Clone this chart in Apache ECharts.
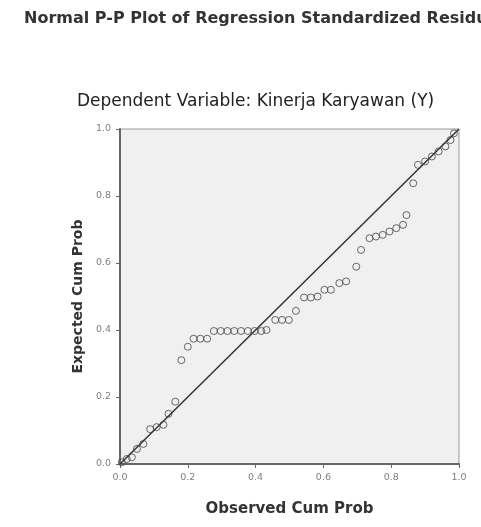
<!DOCTYPE html>
<html>
<head>
<meta charset="utf-8">
<script src="https://cdn.jsdelivr.net/npm/echarts@6/dist/echarts.min.js"></script>
<style>
  html, body { margin: 0; padding: 0; background: #fff; }
  #chart { width: 481px; height: 527px; }
</style>
</head>
<body>
<div id="chart"></div>
<script>
// observed cum prob vs expected cum prob
const observed = [0.005, 0.02, 0.035, 0.05, 0.069, 0.089, 0.108, 0.128, 0.143, 0.163,
  0.181, 0.2, 0.217, 0.237, 0.257, 0.277, 0.297, 0.317, 0.337, 0.357,
  0.377, 0.397, 0.417, 0.432, 0.458, 0.478, 0.498, 0.519, 0.543, 0.563,
  0.583, 0.603, 0.622, 0.647, 0.667, 0.697, 0.711, 0.736, 0.755, 0.775,
  0.795, 0.815, 0.835, 0.845, 0.865, 0.879, 0.9, 0.92, 0.94, 0.96, 0.975, 0.985]
const expected = [0.005, 0.015, 0.02, 0.045, 0.06, 0.104, 0.11, 0.117, 0.15, 0.186,
  0.31, 0.35, 0.374, 0.374, 0.374, 0.397, 0.397, 0.397, 0.397, 0.397,
  0.397, 0.397, 0.397, 0.4, 0.43, 0.43, 0.43, 0.457, 0.497, 0.497,
  0.5, 0.52, 0.52, 0.54, 0.545, 0.589, 0.639, 0.674, 0.679, 0.684,
  0.694, 0.704, 0.714, 0.743, 0.838, 0.893, 0.903, 0.918, 0.933, 0.948, 0.967, 0.987]
const refLine = [[0, 0], [1, 1]]

const font = 'DejaVu Sans, Verdana, sans-serif'
const chart = echarts.init(document.getElementById('chart'))

const axisCommon = {
  type: 'value',
  min: 0,
  max: 1,
  interval: 0.2,
  axisLine: { show: true, onZero: false, lineStyle: { color: '#666', width: 2 } },
  axisTick: { show: true, length: 4, lineStyle: { color: '#666' } },
  axisLabel: { fontSize: 9.5, color: '#808080', fontFamily: font, margin: 9, formatter: v => v.toFixed(1) },
  splitLine: { show: false },
  nameLocation: 'middle',
  nameTextStyle: { fontSize: 14, fontWeight: 'bold', color: '#333', fontFamily: font },
}

chart.setOption({
  animation: false,
  title: [
    {
      text: 'Normal P-P Plot of Regression Standardized Residuals',
      left: 19, top: 6,
      textStyle: { fontSize: 16, fontWeight: 'bold', color: '#333', fontFamily: font },
    },
    {
      text: 'Dependent Variable: Kinerja Karyawan (Y)',
      left: 72, top: 88,
      textStyle: { fontSize: 17, fontWeight: 'normal', color: '#222', fontFamily: font },
    },
  ],
  grid: {
    left: 120, right: 22, top: 129, bottom: 63,
    show: true, backgroundColor: '#f0f0f0', borderColor: '#999', borderWidth: 1,
  },
  xAxis: {
    ...axisCommon, name: 'Observed Cum Prob', nameGap: 38,
    nameTextStyle: { ...axisCommon.nameTextStyle, fontSize: 15 },
  },
  yAxis: { ...axisCommon, name: 'Expected Cum Prob', nameGap: 27 },
  series: [
    {
      type: 'line',
      data: refLine,
      symbol: 'none',
      lineStyle: { color: '#333', width: 1.5 },
      z: 2,
    },
    {
      type: 'scatter',
      data: observed.map((x, i) => [x, expected[i]]),
      symbol: 'circle',
      symbolSize: 7,
      itemStyle: { color: 'rgba(0,0,0,0)', borderColor: '#444', borderWidth: 1 },
      z: 3,
    },
  ],
})
</script>
</body>
</html>
